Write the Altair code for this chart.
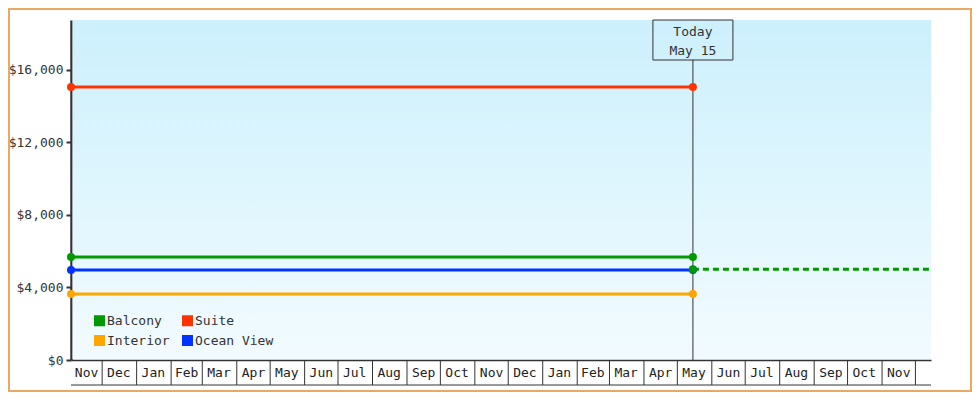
import altair as alt
import pandas as pd

# ---- data ----
series = ["Balcony", "Suite", "Interior", "Ocean View"]
series_colors = ["#009900", "#ff3300", "#ffa500", "#0033ff"]
prices = [5680, 15060, 3640, 4970]

start_date = "2022-11-03T00:00:00"
today_date = "2024-05-15T00:00:00"
end_date = "2024-12-15T00:00:00"
today_header = "Today"
today_label = "May 15"
forecast_value = 5000
forecast_color = "#009900"

month_starts = [
    "2022-12-01", "2023-01-01", "2023-02-01", "2023-03-01", "2023-04-01",
    "2023-05-01", "2023-06-01", "2023-07-01", "2023-08-01", "2023-09-01",
    "2023-10-01", "2023-11-01", "2023-12-01", "2024-01-01", "2024-02-01",
    "2024-03-01", "2024-04-01", "2024-05-01", "2024-06-01", "2024-07-01",
    "2024-08-01", "2024-09-01", "2024-10-01", "2024-11-01", "2024-12-01",
]
month_label_dates = [
    "2022-11-17", "2022-12-16", "2023-01-16", "2023-02-15", "2023-03-16",
    "2023-04-16", "2023-05-16", "2023-06-16", "2023-07-16", "2023-08-16",
    "2023-09-16", "2023-10-16", "2023-11-16", "2023-12-16", "2024-01-16",
    "2024-02-15", "2024-03-16", "2024-04-16", "2024-05-16", "2024-06-16",
    "2024-07-16", "2024-08-16", "2024-09-16", "2024-10-16", "2024-11-16",
]
month_labels = [
    "Nov", "Dec", "Jan", "Feb", "Mar", "Apr", "May", "Jun", "Jul", "Aug",
    "Sep", "Oct", "Nov", "Dec", "Jan", "Feb", "Mar", "Apr", "May", "Jun",
    "Jul", "Aug", "Sep", "Oct", "Nov",
]
y_ticks = [0, 4000, 8000, 12000, 16000]
y_max = 18750

FONT = "DejaVu Sans Mono"
INK = "#333333"


def dt(s):
    d = pd.Timestamp(s)
    return alt.DateTime(year=d.year, month=d.month, date=d.day)


# ---- tables ----
lines_df = pd.DataFrame(
    [{"series": s, "date": start_date, "price": p} for s, p in zip(series, prices)]
    + [{"series": s, "date": today_date, "price": p} for s, p in zip(series, prices)]
)
forecast_df = pd.DataFrame(
    {"date": [today_date, end_date], "price": [forecast_value, forecast_value]}
)
today_df = pd.DataFrame(
    {"date": [today_date], "header": [today_header], "label": [today_label]}
)
ticks_df = pd.DataFrame({"date": [s + "T00:00:00" for s in month_starts]})
labels_df = pd.DataFrame(
    {"date": [s + "T00:00:00" for s in month_label_dates], "label": month_labels}
)
one = pd.DataFrame({"a": [0]})

x_scale = alt.Scale(domain=[dt(start_date), dt(end_date)])
y_scale = alt.Scale(domain=[0, y_max], nice=False, zero=True)
color_scale = alt.Scale(domain=series, range=series_colors)

legend = alt.Legend(
    orient="none", legendX=22, legendY=294, columns=2, direction="horizontal",
    title=None, symbolType="square", symbolSize=121, symbolStrokeWidth=0,
    symbolOpacity=1, labelFont=FONT, labelFontSize=13, labelColor=INK,
    labelOffset=1, columnPadding=11, rowPadding=6, padding=0,
)

x_enc = alt.X(
    "date:T",
    scale=x_scale,
    title=None,
    axis=alt.Axis(labels=False, ticks=False, grid=False, domainColor=INK,
                  domainWidth=1.5, title=None, zindex=0),
)
y_enc = alt.Y(
    "price:Q",
    scale=y_scale,
    title=None,
    axis=alt.Axis(values=y_ticks, format="$,.0f", grid=False, tickSize=5,
                  tickWidth=2, tickColor=INK, domainColor=INK, domainWidth=2.5,
                  labelFont=FONT, labelFontSize=13, labelColor=INK,
                  labelPadding=3, title=None, zindex=0),
)

background = alt.Chart(one).mark_rect(
    color={
        "gradient": "linear", "x1": 0, "y1": 0, "x2": 0, "y2": 1,
        "stops": [{"offset": 0, "color": "#ccf0fc"},
                  {"offset": 1, "color": "#f2fbff"}],
    }
).encode(x=alt.value(1.5), x2=alt.value(860), y=alt.value(0), y2=alt.value(339))

today_rule = alt.Chart(today_df).mark_rule(color=INK, strokeWidth=1).encode(
    x="date:T", y=alt.value(40), y2=alt.value(340)
)

lines = alt.Chart(lines_df).mark_line(strokeWidth=3).encode(
    x=x_enc, y=y_enc,
    color=alt.Color("series:N", scale=color_scale, legend=legend),
    detail="series:N",
)

forecast = alt.Chart(forecast_df).mark_line(
    strokeWidth=3, strokeDash=[6, 4], color=forecast_color
).encode(x="date:T", y="price:Q")

points = alt.Chart(lines_df).mark_point(
    filled=True, size=64, opacity=1, shape="circle"
).encode(
    x="date:T", y="price:Q",
    color=alt.Color("series:N", scale=color_scale, legend=legend),
)

forecast_point = alt.Chart(forecast_df.head(1)).mark_point(
    filled=True, size=64, opacity=1, shape="circle", color=forecast_color
).encode(x="date:T", y="price:Q")

today_box = alt.Chart(today_df).mark_rect(
    fillOpacity=0, stroke=INK, strokeWidth=1, xOffset=-40, x2Offset=40
).encode(x="date:T", x2="date:T", y=alt.value(0), y2=alt.value(40))
today_head = alt.Chart(today_df).mark_text(
    font=FONT, fontSize=13, color=INK, baseline="middle"
).encode(x="date:T", y=alt.value(12), text="header:N")
today_text = alt.Chart(today_df).mark_text(
    font=FONT, fontSize=13, color=INK, baseline="middle"
).encode(x="date:T", y=alt.value(31), text="label:N")

month_ticks = alt.Chart(ticks_df).mark_rule(color=INK, strokeWidth=1).encode(
    x="date:T", y=alt.value(340), y2=alt.value(365)
)
month_text = alt.Chart(labels_df).mark_text(
    font=FONT, fontSize=13, color="#222222", baseline="middle"
).encode(x="date:T", y=alt.value(353), text="label:N")
bottom_line = alt.Chart(one).mark_rule(color=INK, strokeWidth=1).encode(
    x=alt.value(0), x2=alt.value(860), y=alt.value(365)
)

border = alt.Chart(one).mark_rect(
    fillOpacity=0, stroke="#eaa862", strokeWidth=2
).encode(x=alt.value(-62), x2=alt.value(900), y=alt.value(-11), y2=alt.value(371))

chart = alt.layer(
    background, today_rule, lines, forecast, points, forecast_point,
    today_box, today_head, today_text,
    month_ticks, month_text, bottom_line, border,
).properties(
    width=860, height=340,
    padding={"left": 63, "top": 12, "right": 41, "bottom": 32},
    autosize=alt.AutoSizeParams(type="none"),
).configure(
    background="white", font=FONT
).configure_view(stroke=None)

chart.save("out.html", embed_options={"renderer": "svg", "actions": False})
